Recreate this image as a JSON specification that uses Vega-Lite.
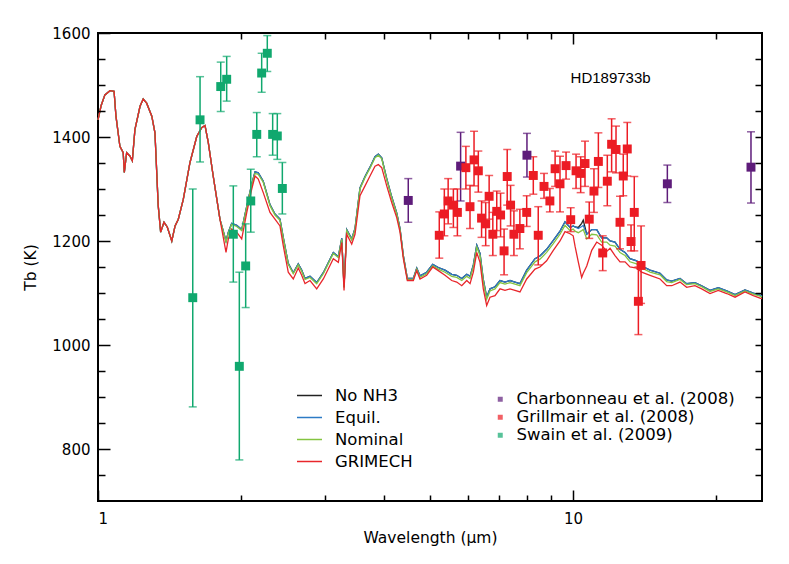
{
"$schema": "https://vega.github.io/schema/vega-lite/v6.json",
"width": 664, "height": 468,
"autosize": {"type": "none"},
"padding": {"left": 98, "top": 33, "right": 27, "bottom": 63},
"background": "white",
"config": {
  "view": {"stroke": "#000", "strokeWidth": 2},
  "font": "DejaVu Sans",
  "axis": {"domain": false, "grid": false, "labelColor": "#000", "titleColor": "#000", "labelFontSize": 15, "titleFontSize": 15.5, "titleFontWeight": "normal"},
  "legend": {"labelColor": "#000", "labelLimit": 400}
},
"datasets": {
"model": [
{"w":1.000,"n":1433,"e":1433,"m":1433,"g":1433},
{"w":1.015,"n":1460,"e":1460,"m":1460,"g":1460},
{"w":1.034,"n":1481,"e":1481,"m":1481,"g":1481},
{"w":1.060,"n":1489,"e":1489,"m":1489,"g":1489},
{"w":1.081,"n":1488,"e":1488,"m":1488,"g":1488},
{"w":1.091,"n":1440,"e":1440,"m":1440,"g":1440},
{"w":1.112,"n":1382,"e":1382,"m":1382,"g":1382},
{"w":1.130,"n":1370,"e":1370,"m":1370,"g":1370},
{"w":1.136,"n":1332,"e":1332,"m":1332,"g":1332},
{"w":1.149,"n":1370,"e":1370,"m":1370,"g":1370},
{"w":1.168,"n":1363,"e":1363,"m":1363,"g":1363},
{"w":1.181,"n":1354,"e":1354,"m":1354,"g":1354},
{"w":1.196,"n":1414,"e":1414,"m":1414,"g":1414},
{"w":1.226,"n":1459,"e":1459,"m":1459,"g":1459},
{"w":1.245,"n":1473,"e":1473,"m":1473,"g":1473},
{"w":1.266,"n":1465,"e":1465,"m":1465,"g":1465},
{"w":1.298,"n":1440,"e":1440,"m":1440,"g":1440},
{"w":1.318,"n":1408,"e":1408,"m":1408,"g":1408},
{"w":1.339,"n":1268,"e":1268,"m":1268,"g":1268},
{"w":1.355,"n":1217,"e":1217,"m":1217,"g":1217},
{"w":1.377,"n":1236,"e":1236,"m":1236,"g":1236},
{"w":1.399,"n":1227,"e":1227,"m":1227,"g":1227},
{"w":1.430,"n":1200,"e":1200,"m":1200,"g":1200},
{"w":1.453,"n":1229,"e":1229,"m":1229,"g":1229},
{"w":1.476,"n":1242,"e":1242,"m":1242,"g":1242},
{"w":1.512,"n":1280,"e":1280,"m":1280,"g":1280},
{"w":1.562,"n":1351,"e":1351,"m":1351,"g":1351},
{"w":1.614,"n":1401,"e":1401,"m":1401,"g":1401},
{"w":1.653,"n":1418,"e":1418,"m":1418,"g":1418},
{"w":1.680,"n":1422,"e":1422,"m":1422,"g":1422},
{"w":1.707,"n":1389,"e":1389,"m":1389,"g":1389},
{"w":1.748,"n":1325,"e":1325,"m":1325,"g":1325},
{"w":1.806,"n":1242,"e":1242,"m":1242,"g":1242},
{"w":1.860,"n":1200,"e":1200,"m":1198,"g":1178},
{"w":1.881,"n":1217,"e":1217,"m":1215,"g":1204},
{"w":1.912,"n":1234,"e":1234,"m":1232,"g":1223},
{"w":1.959,"n":1230,"e":1230,"m":1228,"g":1217},
{"w":2.007,"n":1222,"e":1222,"m":1220,"g":1204},
{"w":2.057,"n":1267,"e":1267,"m":1265,"g":1255},
{"w":2.107,"n":1310,"e":1310,"m":1308,"g":1300},
{"w":2.141,"n":1333,"e":1333,"m":1330,"g":1325},
{"w":2.175,"n":1331,"e":1331,"m":1328,"g":1319},
{"w":2.228,"n":1315,"e":1315,"m":1313,"g":1293},
{"w":2.302,"n":1270,"e":1270,"m":1268,"g":1255},
{"w":2.358,"n":1252,"e":1252,"m":1250,"g":1242},
{"w":2.416,"n":1242,"e":1242,"m":1240,"g":1229},
{"w":2.455,"n":1207,"e":1207,"m":1205,"g":1191},
{"w":2.515,"n":1157,"e":1157,"m":1155,"g":1140},
{"w":2.577,"n":1139,"e":1139,"m":1137,"g":1127},
{"w":2.640,"n":1156,"e":1156,"m":1154,"g":1148},
{"w":2.684,"n":1144,"e":1144,"m":1142,"g":1134},
{"w":2.728,"n":1128,"e":1128,"m":1126,"g":1118},
{"w":2.795,"n":1132,"e":1132,"m":1130,"g":1124},
{"w":2.887,"n":1120,"e":1120,"m":1118,"g":1108},
{"w":2.981,"n":1139,"e":1139,"m":1137,"g":1127},
{"w":3.079,"n":1165,"e":1165,"m":1163,"g":1153},
{"w":3.129,"n":1178,"e":1178,"m":1176,"g":1166},
{"w":3.206,"n":1170,"e":1170,"m":1168,"g":1159},
{"w":3.260,"n":1205,"e":1205,"m":1203,"g":1197},
{"w":3.296,"n":1112,"e":1112,"m":1110,"g":1105},
{"w":3.339,"n":1222,"e":1222,"m":1220,"g":1213},
{"w":3.421,"n":1204,"e":1204,"m":1202,"g":1194},
{"w":3.476,"n":1224,"e":1224,"m":1222,"g":1213},
{"w":3.561,"n":1302,"e":1302,"m":1300,"g":1287},
{"w":3.649,"n":1324,"e":1324,"m":1322,"g":1306},
{"w":3.738,"n":1342,"e":1342,"m":1340,"g":1325},
{"w":3.830,"n":1362,"e":1362,"m":1360,"g":1344},
{"w":3.892,"n":1367,"e":1367,"m":1365,"g":1347},
{"w":3.957,"n":1360,"e":1360,"m":1358,"g":1341},
{"w":4.054,"n":1320,"e":1320,"m":1318,"g":1306},
{"w":4.153,"n":1285,"e":1285,"m":1283,"g":1274},
{"w":4.255,"n":1254,"e":1254,"m":1252,"g":1245},
{"w":4.324,"n":1224,"e":1224,"m":1222,"g":1217},
{"w":4.394,"n":1172,"e":1172,"m":1170,"g":1166},
{"w":4.480,"n":1128,"e":1128,"m":1126,"g":1124},
{"w":4.612,"n":1128,"e":1128,"m":1126,"g":1124},
{"w":4.689,"n":1148,"e":1148,"m":1146,"g":1143},
{"w":4.764,"n":1133,"e":1133,"m":1130,"g":1127},
{"w":4.920,"n":1140,"e":1140,"m":1137,"g":1134},
{"w":5.066,"n":1155,"e":1155,"m":1152,"g":1150},
{"w":5.205,"n":1149,"e":1149,"m":1146,"g":1143},
{"w":5.377,"n":1144,"e":1144,"m":1140,"g":1134},
{"w":5.555,"n":1136,"e":1136,"m":1132,"g":1124},
{"w":5.692,"n":1134,"e":1134,"m":1130,"g":1121},
{"w":5.832,"n":1128,"e":1128,"m":1124,"g":1114},
{"w":5.975,"n":1136,"e":1136,"m":1132,"g":1124},
{"w":6.072,"n":1132,"e":1132,"m":1128,"g":1118},
{"w":6.169,"n":1154,"e":1154,"m":1150,"g":1140},
{"w":6.272,"n":1192,"e":1192,"m":1188,"g":1178},
{"w":6.372,"n":1176,"e":1176,"m":1172,"g":1159},
{"w":6.474,"n":1126,"e":1126,"m":1122,"g":1108},
{"w":6.581,"n":1092,"e":1092,"m":1088,"g":1076},
{"w":6.688,"n":1108,"e":1108,"m":1104,"g":1092},
{"w":6.852,"n":1112,"e":1112,"m":1108,"g":1095},
{"w":7.020,"n":1124,"e":1124,"m":1120,"g":1108},
{"w":7.192,"n":1121,"e":1121,"m":1117,"g":1105},
{"w":7.369,"n":1124,"e":1124,"m":1120,"g":1108},
{"w":7.549,"n":1121,"e":1121,"m":1117,"g":1105},
{"w":7.734,"n":1118,"e":1118,"m":1114,"g":1102},
{"w":7.990,"n":1144,"e":1144,"m":1139,"g":1127},
{"w":8.318,"n":1166,"e":1166,"m":1160,"g":1146},
{"w":8.52,"n":1171,"e":1171,"m":1165,"g":1150},
{"w":8.80,"n":1184,"e":1184,"m":1178,"g":1162},
{"w":9.09,"n":1201,"e":1201,"m":1195,"g":1182},
{"w":9.39,"n":1219,"e":1219,"m":1213,"g":1200},
{"w":9.62,"n":1237,"e":1237,"m":1230,"g":1218},
{"w":9.86,"n":1226,"e":1226,"m":1220,"g":1214},
{"w":10.01,"n":1229,"e":1229,"m":1223,"g":1210},
{"w":10.10,"n":1227,"e":1227,"m":1219,"g":1190},
{"w":10.26,"n":1226,"e":1224,"m":1216,"g":1160},
{"w":10.43,"n":1234,"e":1228,"m":1220,"g":1130},
{"w":10.51,"n":1240,"e":1230,"m":1222,"g":1138},
{"w":10.69,"n":1213,"e":1213,"m":1204,"g":1152},
{"w":10.95,"n":1222,"e":1222,"m":1213,"g":1182},
{"w":11.22,"n":1222,"e":1222,"m":1212,"g":1198},
{"w":11.49,"n":1206,"e":1206,"m":1198,"g":1192},
{"w":11.78,"n":1206,"e":1206,"m":1198,"g":1180},
{"w":11.97,"n":1200,"e":1200,"m":1192,"g":1186},
{"w":12.26,"n":1198,"e":1198,"m":1190,"g":1172},
{"w":12.56,"n":1184,"e":1184,"m":1178,"g":1160},
{"w":12.87,"n":1178,"e":1178,"m":1172,"g":1160},
{"w":13.18,"n":1166,"e":1166,"m":1160,"g":1150},
{"w":13.62,"n":1162,"e":1162,"m":1156,"g":1148},
{"w":13.95,"n":1152,"e":1152,"m":1148,"g":1140},
{"w":14.53,"n":1144,"e":1144,"m":1140,"g":1134},
{"w":15.25,"n":1138,"e":1138,"m":1135,"g":1127},
{"w":15.75,"n":1125,"e":1125,"m":1122,"g":1114},
{"w":16.14,"n":1123,"e":1123,"m":1120,"g":1114},
{"w":16.80,"n":1128,"e":1128,"m":1126,"g":1121},
{"w":17.35,"n":1118,"e":1118,"m":1116,"g":1111},
{"w":18.06,"n":1120,"e":1120,"m":1118,"g":1114},
{"w":18.66,"n":1114,"e":1114,"m":1112,"g":1108},
{"w":19.43,"n":1105,"e":1105,"m":1103,"g":1099},
{"w":20.23,"n":1110,"e":1110,"m":1108,"g":1105},
{"w":21.07,"n":1104,"e":1104,"m":1102,"g":1099},
{"w":21.94,"n":1097,"e":1097,"m":1095,"g":1092},
{"w":23.02,"n":1106,"e":1106,"m":1104,"g":1102},
{"w":23.97,"n":1100,"e":1100,"m":1098,"g":1095},
{"w":24.76,"n":1096,"e":1096,"m":1094,"g":1090},
{"w":25.0,"n":1094,"e":1094,"m":1092,"g":1089}
],
"obs": [
{"w":4.5,"T":1278,"lo":1236,"hi":1320,"s":"C"},
{"w":5.8,"T":1344,"lo":1277,"hi":1409,"s":"C"},
{"w":8.0,"T":1365,"lo":1323,"hi":1407,"s":"C"},
{"w":15.8,"T":1310,"lo":1274,"hi":1346,"s":"C"},
{"w":23.7,"T":1342,"lo":1273,"hi":1410,"s":"C"},
{"w":5.23,"T":1211,"lo":1167,"hi":1256,"s":"G"},
{"w":5.36,"T":1252,"lo":1210,"hi":1300,"s":"G"},
{"w":5.46,"T":1277,"lo":1233,"hi":1320,"s":"G"},
{"w":5.60,"T":1269,"lo":1226,"hi":1300,"s":"G"},
{"w":5.71,"T":1255,"lo":1210,"hi":1300,"s":"G"},
{"w":5.95,"T":1341,"lo":1300,"hi":1382,"s":"G"},
{"w":6.07,"T":1266,"lo":1224,"hi":1307,"s":"G"},
{"w":6.19,"T":1356,"lo":1306,"hi":1411,"s":"G"},
{"w":6.32,"T":1335,"lo":1294,"hi":1373,"s":"G"},
{"w":6.42,"T":1244,"lo":1207,"hi":1277,"s":"G"},
{"w":6.55,"T":1233,"lo":1191,"hi":1274,"s":"G"},
{"w":6.66,"T":1286,"lo":1242,"hi":1326,"s":"G"},
{"w":6.78,"T":1213,"lo":1172,"hi":1255,"s":"G"},
{"w":6.91,"T":1257,"lo":1220,"hi":1296,"s":"G"},
{"w":7.04,"T":1250,"lo":1208,"hi":1292,"s":"G"},
{"w":7.16,"T":1181,"lo":1135,"hi":1223,"s":"G"},
{"w":7.27,"T":1324,"lo":1269,"hi":1376,"s":"G"},
{"w":7.39,"T":1269,"lo":1229,"hi":1307,"s":"G"},
{"w":7.51,"T":1213,"lo":1172,"hi":1258,"s":"G"},
{"w":7.73,"T":1224,"lo":1185,"hi":1261,"s":"G"},
{"w":7.99,"T":1255,"lo":1228,"hi":1287,"s":"G"},
{"w":8.25,"T":1326,"lo":1290,"hi":1362,"s":"G"},
{"w":8.45,"T":1211,"lo":1154,"hi":1266,"s":"G"},
{"w":8.69,"T":1305,"lo":1282,"hi":1330,"s":"G"},
{"w":8.94,"T":1277,"lo":1256,"hi":1301,"s":"G"},
{"w":9.17,"T":1339,"lo":1305,"hi":1373,"s":"G"},
{"w":9.39,"T":1310,"lo":1256,"hi":1363,"s":"G"},
{"w":9.67,"T":1345,"lo":1319,"hi":1371,"s":"G"},
{"w":9.89,"T":1241,"lo":1218,"hi":1264,"s":"G"},
{"w":10.15,"T":1335,"lo":1301,"hi":1367,"s":"G"},
{"w":10.38,"T":1330,"lo":1293,"hi":1362,"s":"G"},
{"w":10.60,"T":1349,"lo":1305,"hi":1392,"s":"G"},
{"w":10.82,"T":1242,"lo":1205,"hi":1275,"s":"G"},
{"w":11.07,"T":1296,"lo":1255,"hi":1339,"s":"G"},
{"w":11.31,"T":1353,"lo":1303,"hi":1408,"s":"G"},
{"w":11.55,"T":1177,"lo":1143,"hi":1210,"s":"G"},
{"w":11.81,"T":1315,"lo":1268,"hi":1365,"s":"G"},
{"w":12.06,"T":1386,"lo":1333,"hi":1435,"s":"G"},
{"w":12.32,"T":1376,"lo":1331,"hi":1421,"s":"G"},
{"w":12.56,"T":1236,"lo":1185,"hi":1286,"s":"G"},
{"w":12.76,"T":1325,"lo":1287,"hi":1367,"s":"G"},
{"w":13.01,"T":1377,"lo":1325,"hi":1428,"s":"G"},
{"w":13.25,"T":1199,"lo":1181,"hi":1231,"s":"G"},
{"w":13.46,"T":1255,"lo":1181,"hi":1324,"s":"G"},
{"w":13.73,"T":1084,"lo":1020,"hi":1150,"s":"G"},
{"w":13.91,"T":1153,"lo":1080,"hi":1229,"s":"G"},
{"w":1.583,"T":1091,"lo":881,"hi":1300,"s":"S"},
{"w":1.640,"T":1433,"lo":1352,"hi":1516,"s":"S"},
{"w":1.813,"T":1497,"lo":1449,"hi":1544,"s":"S"},
{"w":1.866,"T":1511,"lo":1469,"hi":1555,"s":"S"},
{"w":1.927,"T":1213,"lo":1121,"hi":1306,"s":"S"},
{"w":1.984,"T":959,"lo":779,"hi":1140,"s":"S"},
{"w":2.046,"T":1152,"lo":1072,"hi":1233,"s":"S"},
{"w":2.097,"T":1277,"lo":1217,"hi":1338,"s":"S"},
{"w":2.159,"T":1405,"lo":1362,"hi":1447,"s":"S"},
{"w":2.211,"T":1523,"lo":1486,"hi":1561,"s":"S"},
{"w":2.272,"T":1561,"lo":1526,"hi":1595,"s":"S"},
{"w":2.332,"T":1405,"lo":1365,"hi":1445,"s":"S"},
{"w":2.385,"T":1402,"lo":1357,"hi":1445,"s":"S"},
{"w":2.444,"T":1301,"lo":1252,"hi":1351,"s":"S"}
],
"lab": [{"w": 12.0, "T": 1514, "t": "HD189733b"}]
},
"resolve": {"axis": {"x": "independent", "y": "independent"}},
"layer": [
{
  "data": {"name": "model"},
  "transform": [{"fold": ["n", "e", "m", "g"], "as": ["key", "T"]}],
  "mark": {"type": "line", "strokeWidth": 1.3},
  "encoding": {
    "x": {"field": "w", "type": "quantitative", "scale": {"type": "log", "domain": [1, 25], "nice": false},
          "axis": {"orient": "bottom", "zindex": 1, "values": [1, 10], "format": "d", "tickSize": -11, "tickColor": "black", "tickWidth": 1.5, "labelPadding": 21, "title": "Wavelength (μm)", "titlePadding": 4}},
    "y": {"field": "T", "type": "quantitative", "scale": {"domain": [700, 1600], "nice": false, "zero": false},
          "axis": {"orient": "left", "zindex": 1, "values": [800, 1000, 1200, 1400, 1600], "format": "d", "tickSize": -12, "tickColor": "black", "tickWidth": 1.5, "labelPadding": 20, "title": "Tb (K)", "titlePadding": 13}},
    "stroke": {"field": "key", "type": "nominal",
      "scale": {"domain": ["n", "e", "m", "g"], "range": ["#222222", "#2C7BC5", "#84C441", "#E8262B"]},
      "legend": {"title": null, "orient": "none", "legendX": 198, "legendY": 349, "symbolType": "M-1,0H1", "symbolSize": 625, "symbolStrokeWidth": 1.5, "labelFontSize": 16.5, "labelOffset": 12, "rowPadding": 0,
        "labelExpr": "datum.label == 'n' ? 'No NH3' : datum.label == 'e' ? 'Equil.' : datum.label == 'm' ? 'Nominal' : 'GRIMECH'"}}
  }
},
{
  "data": {"name": "obs"},
  "mark": {"type": "rule", "strokeWidth": 1.5},
  "encoding": {
    "x": {"field": "w", "type": "quantitative", "scale": {"type": "log", "domain": [1, 25], "nice": false},
          "axis": {"orient": "bottom", "zindex": 1, "values": [2, 3, 4, 5, 6, 7, 8, 9, 20], "tickSize": -6, "tickColor": "black", "tickWidth": 1.5, "labels": false, "title": null}},
    "y": {"field": "lo", "type": "quantitative", "scale": {"domain": [700, 1600], "nice": false, "zero": false},
          "axis": {"orient": "left", "zindex": 1, "values": [750, 850, 900, 950, 1050, 1100, 1150, 1250, 1300, 1350, 1450, 1500, 1550], "tickSize": -7, "tickColor": "black", "tickWidth": 1.5, "labels": false, "title": null}},
    "y2": {"field": "hi"},
    "color": {"field": "s", "type": "nominal", "scale": {"domain": ["C", "G", "S"], "range": ["#5E1C7A", "#EC1C24", "#10A86E"]},
      "legend": {"title": null, "orient": "none", "legendX": 394, "legendY": 358, "symbolType": "square", "symbolSize": 25, "symbolStrokeWidth": 0, "labelFontSize": 16.5, "labelOffset": 8, "rowPadding": 1,
        "labelExpr": "datum.label == 'C' ? 'Charbonneau et al. (2008)' : datum.label == 'G' ? 'Grillmair et al. (2008)' : 'Swain et al. (2009)'"}}
  }
},
{
  "data": {"name": "obs"},
  "mark": {"type": "tick", "orient": "horizontal", "size": 8, "thickness": 1.5},
  "encoding": {
    "x": {"field": "w", "type": "quantitative", "scale": {"type": "log", "domain": [1, 25], "nice": false},
          "axis": {"orient": "top", "zindex": 1, "values": [2, 3, 4, 5, 6, 7, 8, 9, 20], "tickSize": -6, "tickColor": "black", "tickWidth": 1.5, "labels": false, "title": null}},
    "y": {"field": "lo", "type": "quantitative", "scale": {"domain": [700, 1600], "nice": false, "zero": false},
          "axis": {"orient": "right", "zindex": 1, "values": [750, 800, 850, 900, 950, 1000, 1050, 1100, 1150, 1200, 1250, 1300, 1350, 1400, 1450, 1500, 1550], "tickSize": -7, "tickColor": "black", "tickWidth": 1.5, "labels": false, "title": null}},
    "color": {"field": "s", "type": "nominal"}
  }
},
{
  "data": {"name": "obs"},
  "mark": {"type": "tick", "orient": "horizontal", "size": 8, "thickness": 1.5},
  "encoding": {
    "x": {"field": "w", "type": "quantitative", "scale": {"type": "log", "domain": [1, 25], "nice": false},
          "axis": {"orient": "top", "zindex": 1, "values": [10], "tickSize": -11, "tickColor": "black", "tickWidth": 1.5, "labels": false, "title": null}},
    "y": {"field": "hi", "type": "quantitative", "scale": {"domain": [700, 1600], "nice": false, "zero": false}, "axis": null},
    "color": {"field": "s", "type": "nominal"}
  }
},
{
  "data": {"name": "obs"},
  "mark": {"type": "square", "size": 80, "opacity": 1},
  "encoding": {
    "x": {"field": "w", "type": "quantitative", "scale": {"type": "log", "domain": [1, 25], "nice": false}, "axis": null},
    "y": {"field": "T", "type": "quantitative", "scale": {"domain": [700, 1600], "nice": false, "zero": false}, "axis": null},
    "color": {"field": "s", "type": "nominal"}
  }
},
{
  "data": {"name": "lab"},
  "mark": {"type": "text", "fontSize": 15, "color": "#000", "font": "Liberation Sans"},
  "encoding": {
    "x": {"field": "w", "type": "quantitative", "scale": {"type": "log", "domain": [1, 25], "nice": false}, "axis": null},
    "y": {"field": "T", "type": "quantitative", "scale": {"domain": [700, 1600], "nice": false, "zero": false}, "axis": null},
    "text": {"field": "t"}
  }
}
]
}
